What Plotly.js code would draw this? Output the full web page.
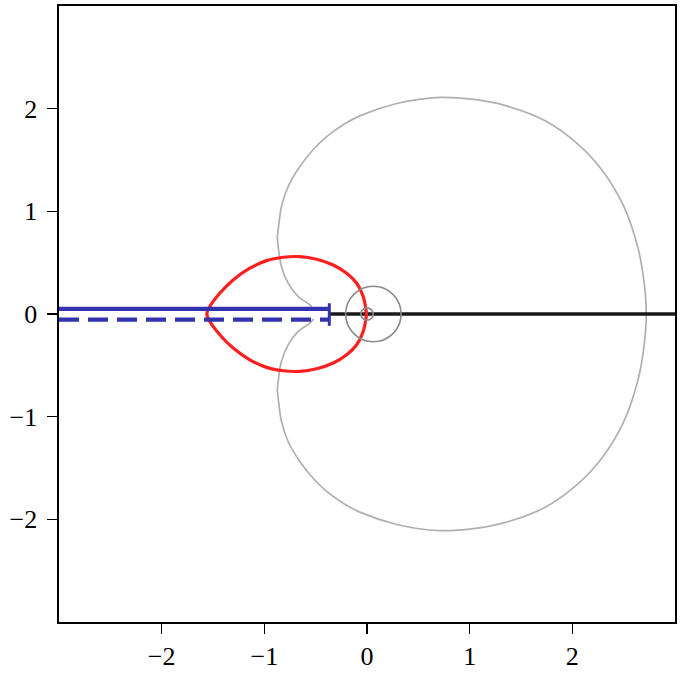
<!DOCTYPE html>
<html>
<head>
<meta charset="utf-8">
<script src="https://cdn.plot.ly/plotly-3.0.1.min.js"></script>
<style>html,body{margin:0;padding:0;background:#fff;}#plot{width:682px;height:674px;}</style>
</head>
<body>
<div id="plot"></div>
<script>
// Tick values and labels
const tickVals = [-2, -1, 0, 1, 2];
const tickText = ["\u22122", "\u22121", "0", "1", "2"];

// Large gray curve: starts under the solid blue line, goes round the top,
// right extreme, bottom, and ends under the dashed blue line
const grayX = [-0.52, -0.556, -0.67, -0.768, -0.833, -0.865, -0.873, -0.865, -0.833, -0.768, -0.654, -0.525, -0.39, -0.22, -0.07, 0.29, 0.71, 1.04, 1.35, 1.74, 2.06, 2.29, 2.50, 2.64, 2.70, 2.72,
               2.70, 2.64, 2.50, 2.29, 2.06, 1.74, 1.35, 1.04, 0.71, 0.29, -0.07, -0.22, -0.39, -0.525, -0.654, -0.768, -0.833, -0.865, -0.873, -0.865, -0.833, -0.768, -0.67, -0.556, -0.52];
const grayY = [0.04, 0.088, 0.169, 0.30, 0.461, 0.657, 0.74, 0.82, 1.047, 1.242, 1.437, 1.60, 1.73, 1.85, 1.93, 2.05, 2.11, 2.09, 2.03, 1.88, 1.65, 1.40, 1.05, 0.64, 0.30, 0.00,
               -0.30, -0.64, -1.05, -1.40, -1.65, -1.88, -2.03, -2.09, -2.11, -2.05, -1.93, -1.85, -1.73, -1.60, -1.437, -1.242, -1.047, -0.82, -0.74, -0.657, -0.461, -0.30, -0.169, -0.088, -0.05];

// Red closed curve, from left tip over the top to the right and back underneath
const redX = [-1.56, -1.532, -1.434, -1.304, -1.141, -0.979, -0.816, -0.654, -0.491, -0.329, -0.198, -0.10, -0.036, -0.01, -0.005,
              -0.01, -0.036, -0.10, -0.198, -0.329, -0.491, -0.654, -0.816, -0.979, -1.141, -1.304, -1.434, -1.532, -1.56];
const redY = [0.00, 0.071, 0.202, 0.332, 0.446, 0.520, 0.553, 0.559, 0.534, 0.478, 0.397, 0.30, 0.169, 0.04, 0.00,
              -0.04, -0.169, -0.30, -0.397, -0.478, -0.534, -0.559, -0.553, -0.520, -0.446, -0.332, -0.202, -0.071, 0.00];

// Blue lines (solid above, dashed below) ending at a cap, black line on the axis
const blueSolidX = [-3, -0.367];
const blueSolidY = [0.05, 0.05];
const blueDashX = [-3, -0.367];
const blueDashY = [-0.055, -0.055];
const capX = [-0.367, -0.367];
const capY = [0.105, -0.115];
const blackX = [-0.367, 3];
const blackY = [0, 0];

// Small circles: centers and radii
const circleCx = [0.062, 0.0];
const circleCy = [0.0, 0.0];
const circleR = [0.27, 0.06];

const traces = [
  {x: grayX, y: grayY, mode: 'lines', line: {color: '#b0b0b0', width: 1.7, shape: 'spline', smoothing: 1}, hoverinfo: 'skip'},
  {x: blackX, y: blackY, mode: 'lines', line: {color: '#1a1a1a', width: 3.5}, hoverinfo: 'skip'},
  {x: redX, y: redY, mode: 'lines', line: {color: '#ff1f1f', width: 3.2, shape: 'spline', smoothing: 1}, hoverinfo: 'skip'},
  {x: blueSolidX, y: blueSolidY, mode: 'lines', line: {color: '#3333b0', width: 4.3}, hoverinfo: 'skip'},
  {x: blueDashX, y: blueDashY, mode: 'lines', line: {color: '#3333b0', width: 4.3, dash: '20px,9px'}, hoverinfo: 'skip'},
  {x: capX, y: capY, mode: 'lines', line: {color: '#3333b0', width: 3}, hoverinfo: 'skip'}
];

const shapes = circleCx.map((cx, i) => ({
  type: 'circle', xref: 'x', yref: 'y',
  x0: cx - circleR[i], x1: cx + circleR[i], y0: circleCy[i] - circleR[i], y1: circleCy[i] + circleR[i],
  line: {color: '#8c8c8c', width: 1.6}, layer: 'above'
}));

const axisCommon = {
  range: [-3, 3], tickvals: tickVals, ticktext: tickText,
  showgrid: false, zeroline: false, showline: true, mirror: true,
  linecolor: '#000', linewidth: 1.6, ticks: 'outside', ticklen: 10, tickwidth: 1.6, tickcolor: '#000',
  tickfont: {family: 'Liberation Serif, serif', size: 26, color: '#000'}, fixedrange: true
};

const layout = {
  width: 682, height: 674,
  margin: {l: 59, r: 7, t: 6, b: 52, pad: 0},
  paper_bgcolor: '#fff', plot_bgcolor: '#fff',
  showlegend: false,
  xaxis: Object.assign({}, axisCommon, {ticklabelstandoff: 0}),
  yaxis: Object.assign({}, axisCommon, {ticklabelstandoff: 5}),
  shapes: shapes
};

Plotly.newPlot('plot', traces, layout, {staticPlot: true, displayModeBar: false});
</script>
</body>
</html>
